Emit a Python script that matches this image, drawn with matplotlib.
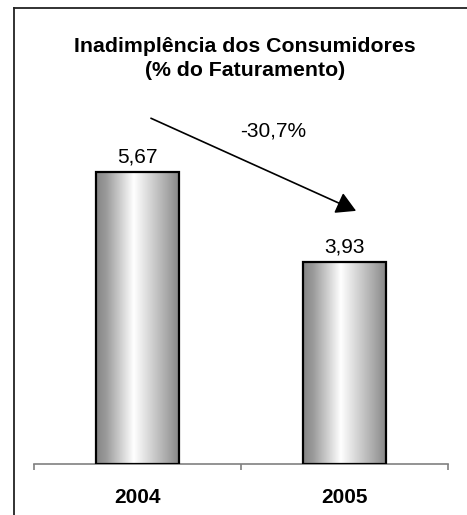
import matplotlib
matplotlib.use("Agg")
import matplotlib.pyplot as plt
import numpy as np
from matplotlib.colors import LinearSegmentedColormap
from matplotlib.lines import Line2D

plt.rcParams['font.family'] = ['Liberation Sans', 'DejaVu Sans']

categories = ["2004", "2005"]
values = [5.67, 3.93]
value_labels = ["5,67", "3,93"]
change_label = "-30,7%"
title_lines = ["Inadimplência dos Consumidores", "(% do Faturamento)"]

W, H = 467, 515
fig = plt.figure(figsize=(W / 100, H / 100), dpi=100)
fig.patch.set_facecolor("white")

# axes geometry in pixels
ax_left, ax_right, ax_bottom_px = 34, 448, 464
ymax = 8.0
px_per_unit = 51.45
ax_h = ymax * px_per_unit
ax = fig.add_axes([ax_left / W, (H - ax_bottom_px) / H, (ax_right - ax_left) / W, ax_h / H])
ax.set_xlim(-0.5, 1.5)
ax.set_ylim(0, ymax)

x = np.arange(len(categories))
bar_w = 0.405
cmap = LinearSegmentedColormap.from_list(
    "cyl", [(0.0, "#858585"), (0.12, "#9a9a9a"), (0.45, "#ffffff"), (0.85, "#a8a8a8"), (1.0, "#858585")])
grad = np.linspace(0, 1, 256).reshape(1, -1)

bars = ax.bar(x, values, width=bar_w, facecolor="none", edgecolor="black", linewidth=1.6, zorder=3)
for b in bars:
    x0, y0 = b.get_x(), b.get_y()
    im = ax.imshow(grad, cmap=cmap, aspect="auto",
                   extent=[x0, x0 + b.get_width(), y0, y0 + b.get_height()], zorder=2)
    im.set_clip_path(b)

for xi, v, lab in zip(x, values, value_labels):
    ax.annotate(lab, (xi, v), xytext=(0, 6.8), textcoords="offset points",
                ha="center", va="baseline", fontsize=15, color="black")

# arrow showing change
ax.annotate("", xy=(x[1] + 0.056, values[1] + 0.99), xytext=(x[0] + 0.065, values[0] + 1.05),
            xycoords="data", textcoords="data",
            arrowprops=dict(arrowstyle="-|>,head_length=0.6,head_width=0.34", mutation_scale=20,
                            color="black", lw=1.2, shrinkA=0, shrinkB=0),
            annotation_clip=False)
ax.text(0.655, values[0] + 0.80, change_label, ha="center", va="center", fontsize=15, color="black")

# axis styling
for s in ["top", "right", "left"]:
    ax.spines[s].set_visible(False)
ax.spines["bottom"].set_color("#808080")
ax.spines["bottom"].set_linewidth(1.2)
ax.set_yticks([])
ax.set_xticks(x)
ax.set_xticklabels(categories, fontsize=15, fontweight="bold")
ax.tick_params(axis="x", which="major", length=0, pad=17.5)
ax.set_xticks([-0.5, 0.5, 1.5], minor=True)
ax.tick_params(axis="x", which="minor", length=4, width=1.2, color="#808080", direction="out")
ax.patch.set_alpha(0)

# title
fig.text(245 / W, (H - 52.5) / H, title_lines[0], ha="center", va="baseline",
         fontsize=15.3, fontweight="bold")
fig.text(245 / W, (H - 75.5) / H, title_lines[1], ha="center", va="baseline",
         fontsize=15.3, fontweight="bold")

# frame (top and left edges)
fig.add_artist(Line2D([14 / W, 1.0], [(H - 8) / H, (H - 8) / H], transform=fig.transFigure,
                      color="#222222", lw=1.3))
fig.add_artist(Line2D([14 / W, 14 / W], [0, (H - 8) / H], transform=fig.transFigure,
                      color="#222222", lw=1.3))

fig.savefig("out.png", dpi=100, facecolor="white")
